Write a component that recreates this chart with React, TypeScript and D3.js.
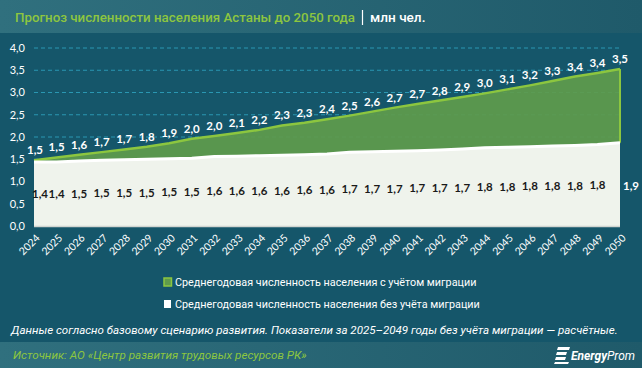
import React from 'react';
import * as d3 from 'd3';

const years = d3.range(2024, 2051).map(String);
// estimated from the curve; labels show one decimal
const withMigration = [
  1.48, 1.54, 1.6, 1.66, 1.72, 1.78, 1.86, 1.96, 2.02, 2.09, 2.16, 2.26, 2.32, 2.4,
  2.48, 2.57, 2.66, 2.74, 2.82, 2.9, 2.98, 3.07, 3.16, 3.26, 3.36, 3.44, 3.53,
];
const withoutMigration = [
  1.44, 1.44, 1.46, 1.48, 1.49, 1.5, 1.51, 1.52, 1.56, 1.57, 1.58, 1.59, 1.6, 1.62,
  1.66, 1.67, 1.68, 1.69, 1.71, 1.73, 1.76, 1.77, 1.78, 1.8, 1.81, 1.83, 1.87,
];
const yTicks = [0, 0.5, 1, 1.5, 2, 2.5, 3, 3.5, 4];
const legendLabels = [
  'Среднегодовая численность населения с учётом миграции',
  'Среднегодовая численность населения без учёта миграции',
];

const W = 642;
const H = 368;
const fmt = (v: number) => v.toFixed(1).replace('.', ',');

export default function App() {
  const x = d3.scalePoint<string>().domain(years).range([34, 620]);
  const y = d3.scaleLinear().domain([0, 4]).range([226, 48]);

  const greenArea = d3
    .area<number>()
    .x((_, i) => x(years[i]) as number)
    .y0(y(0))
    .y1(d => y(d));
  const topLine = d3
    .line<number>()
    .x((_, i) => x(years[i]) as number)
    .y(d => y(d));

  const last = years.length - 1;
  const xLast = x(years[last]) as number;

  return (
    <svg
      width={W}
      height={H}
      style={{ position: 'absolute', left: 0, top: 0, display: 'block' }}
    >
      <defs>
        <linearGradient id="band" x1="0" x2="1" y1="0" y2="0">
          <stop offset="0" stopColor="#30707e" />
          <stop offset="1" stopColor="#1f5a6a" />
        </linearGradient>
      </defs>
      <rect x={0} y={0} width={W} height={H} fill="#15566a" />
      <rect x={0} y={0} width={W} height={33} fill="url(#band)" />
      <text
        x={15}
        y={22}
        fontFamily="Roboto"
        fontSize={13.6}
        fontWeight={500}
        fill="#8dc63f"
        textLength={340}
        lengthAdjust="spacingAndGlyphs"
      >
        Прогноз численности населения Астаны до 2050 года
      </text>
      <line x1={362.5} x2={362.5} y1={10} y2={25} stroke="#ffffff" strokeWidth={1.2} />
      <text x={370} y={22} fontFamily="Roboto" fontSize={13.6} fontWeight={500} fill="#ffffff">
        млн чел.
      </text>

      {/* grid */}
      {yTicks.map(t => (
        <g key={t}>
          {t > 0 && (
            <line
              x1={34}
              x2={620}
              y1={y(t)}
              y2={y(t)}
              stroke="#2a97b2"
              strokeDasharray="4,3"
              strokeWidth={1}
            />
          )}
          <text
            x={25}
            y={y(t)}
            dy="0.35em"
            textAnchor="end"
            fill="#ffffff"
            fontFamily="Lato"
            fontSize={11}
          >
            {fmt(t)}
          </text>
        </g>
      ))}

      <path d={greenArea(withMigration) ?? ''} fill="#5f9b4c" fillOpacity={0.93} />
      <path d={topLine(withMigration) ?? ''} fill="none" stroke="#8cc63f" strokeWidth={2.5} />
      <line
        x1={xLast}
        x2={xLast}
        y1={y(withMigration[last])}
        y2={y(withoutMigration[last])}
        stroke="#8cc63f"
        strokeWidth={2}
      />
      <path d={greenArea(withoutMigration) ?? ''} fill="#eff3ec" />
      <path d={topLine(withoutMigration) ?? ''} fill="none" stroke="#ffffff" strokeWidth={3} />
      <line x1={34} x2={620} y1={y(0) + 0.5} y2={y(0) + 0.5} stroke="#d0d4d0" strokeWidth={1.5} />

      {/* labels with migration */}
      {withMigration.map((v, i) => (
        <text
          key={'a' + i}
          x={(x(years[i]) as number) + (i === 0 ? 1 : 0)}
          y={y(v) - 10}
          dy="0.35em"
          textAnchor="middle"
          fill="#ffffff"
          fontFamily="Lato"
          fontWeight={700}
          fontSize={11.5}
        >
          {fmt(v)}
        </text>
      ))}
      {/* labels without migration */}
      {withoutMigration.map((v, i) => {
        const isLast = i === last;
        const cx = isLast ? xLast + 11 : (x(years[i]) as number) + (i === 0 ? 6 : 0);
        return (
          <text
            key={'b' + i}
            x={cx}
            y={isLast ? 186 : (y(v) + y(0)) / 2}
            dy="0.35em"
            textAnchor="middle"
            fill={isLast ? '#ffffff' : '#1a1a1a'}
            fontFamily="Lato"
            fontWeight={700}
            fontSize={11.5}
          >
            {fmt(v)}
          </text>
        );
      })}

      {/* x axis labels */}
      {years.map(yr => (
        <text
          key={yr}
          transform={`translate(${(x(yr) as number) + 4},${y(0) + 10}) rotate(-45)`}
          textAnchor="end"
          dy="0.35em"
          fill="#ffffff"
          fontFamily="Lato"
          fontSize={10.5}
        >
          {yr}
        </text>
      ))}

      {/* legend */}
      <rect x={164} y={278} width={7.5} height={8} fill="#5f9b4c" stroke="#8cc63f" strokeWidth={1.5} />
      <text x={175} y={282} dy="0.35em" fill="#ffffff" fontFamily="Roboto" fontSize={10.8}>
        {legendLabels[0]}
      </text>
      <rect x={164} y={300} width={7} height={8} fill="#ffffff" />
      <text x={175} y={304} dy="0.35em" fill="#ffffff" fontFamily="Roboto" fontSize={10.8}>
        {legendLabels[1]}
      </text>

      <text
        x={11}
        y={330}
        dy="0.35em"
        fill="#ffffff"
        fontFamily="Roboto"
        fontStyle="italic"
        fontSize={11.55}
      >
        Данные согласно базовому сценарию развития. Показатели за 2025–2049 годы без учёта миграции — расчётные.
      </text>

      <rect x={0} y={342} width={W} height={26} fill="url(#band)" />
      <text
        x={13}
        y={355}
        dy="0.35em"
        fill="#8dc63f"
        fontFamily="Roboto"
        fontStyle="italic"
        fontSize={11.7}
      >
        Источник: АО «Центр развития трудовых ресурсов РК»
      </text>
      {/* logo */}
      <g fill="#ffffff">
        <path d="M558,347 L570,347 L569,350 L557,350 Z" />
        <path d="M557,352 L567,352 L566,355 L556,355 Z" />
        <path d="M556,357 L566,357 L565,360 L555,360 Z" />
        <path d="M555,362 L569,362 L568,364 L554,364 Z" />
      </g>
      <text
        x={571}
        y={356}
        dy="0.35em"
        fill="#ffffff"
        fontFamily="Roboto"
        fontStyle="italic"
        fontWeight={700}
        fontSize={12}
      >
        Energy
        <tspan fontWeight={400}>Prom</tspan>
      </text>
    </svg>
  );
}
